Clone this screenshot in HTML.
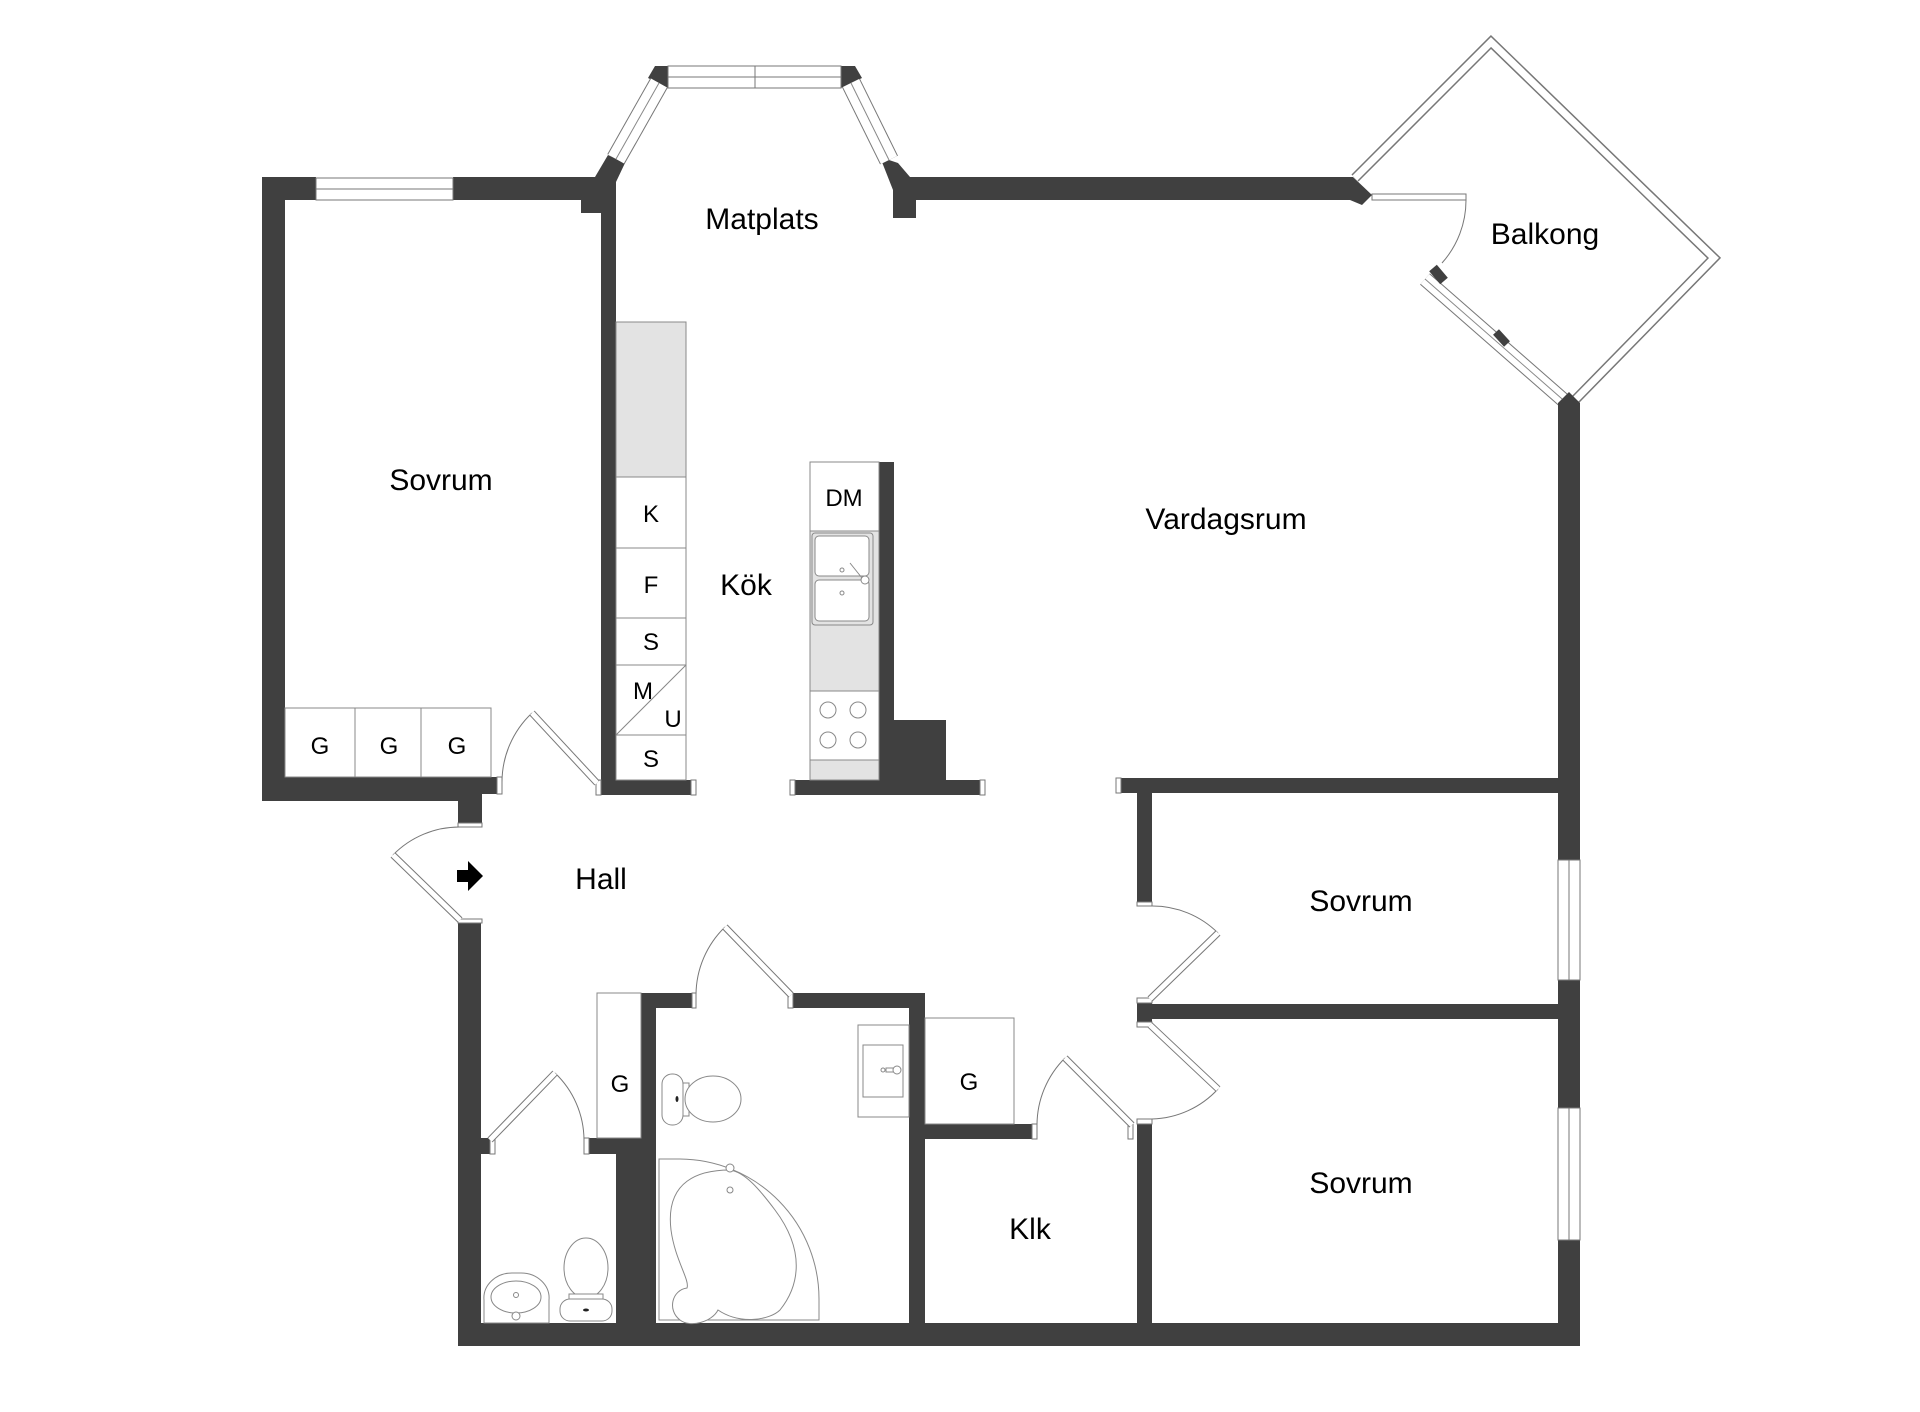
<!DOCTYPE html>
<html><head><meta charset="utf-8"><style>
html,body{margin:0;padding:0;background:#fff;}
svg{display:block;}
text{font-family:"Liberation Sans",Arial,sans-serif;fill:#000;}
</style></head><body>
<svg width="1920" height="1412" viewBox="0 0 1920 1412" xmlns="http://www.w3.org/2000/svg">
<!-- Balcony outline -->
<polyline points="1355,178 1491,42 1714,258 1575,400" fill="none" stroke="#777" stroke-width="10" stroke-linejoin="miter"/>
<polyline points="1355,178 1491,42 1714,258 1575,400" fill="none" stroke="#fff" stroke-width="7" stroke-linejoin="miter"/>
<!-- balcony window diagonal -->
<line x1="1425" y1="279" x2="1569" y2="405" stroke="#777" stroke-width="15"/>
<line x1="1425" y1="279" x2="1569" y2="405" stroke="#fff" stroke-width="13"/>
<line x1="1425" y1="279" x2="1569" y2="405" stroke="#888" stroke-width="1"/>
<line x1="1433" y1="268" x2="1444" y2="281" stroke="#404040" stroke-width="10"/>
<line x1="1496" y1="332" x2="1507" y2="344" stroke="#404040" stroke-width="8"/>
<!-- balcony door -->
<rect x="1372" y="194" width="94" height="6" fill="#fff" stroke="#777" stroke-width="1"/>
<path d="M1466,200 A94,94 0 0 1 1442,263" fill="none" stroke="#777" stroke-width="1"/>

<g fill="#404040">
<rect x="262" y="177" width="23" height="624"/>
<rect x="262" y="177" width="54" height="23"/>
<rect x="453" y="177" width="148" height="23"/>
<rect x="581" y="177" width="20" height="36"/>
<rect x="262" y="777" width="235" height="17"/>
<rect x="262" y="777" width="220" height="24"/>
<rect x="458" y="777" width="24" height="46"/>
<rect x="601" y="177" width="15" height="618"/>
<rect x="601" y="780" width="90" height="15"/>
<polygon points="595,177 608,155 625,163 616,182 616,200 595,200"/>
<polygon points="655,66 668,66 668,88 648,78"/>
<polygon points="841,66 855,66 862,78 841,88"/>
<polygon points="880,157 898,163 910,177 910,200 893,200 893,190"/>
<rect x="893" y="177" width="23" height="41"/>
<polygon points="910,177 1353,177 1372,195 1362,205 1350,200 910,200"/>
<polygon points="1558,403 1569,392 1580,403 1580,1346 1558,1346"/>
<rect x="879" y="462" width="15" height="333"/>
<rect x="894" y="720" width="52" height="75"/>
<rect x="795" y="780" width="185" height="15"/>
<rect x="1121" y="778" width="459" height="15"/>
<rect x="1137" y="778" width="15" height="124"/>
<rect x="1137" y="1004" width="443" height="15"/>
<rect x="1137" y="1003" width="15" height="19"/>
<rect x="1137" y="1124" width="15" height="222"/>
<rect x="458" y="923" width="23" height="423"/>
<rect x="458" y="1323" width="1122" height="23"/>
<rect x="481" y="1138" width="9" height="16"/>
<rect x="589" y="1138" width="40" height="16"/>
<rect x="616" y="1138" width="40" height="190"/>
<rect x="641" y="993" width="15" height="340"/>
<rect x="641" y="993" width="51" height="15"/>
<rect x="793" y="993" width="132" height="15"/>
<rect x="909" y="993" width="16" height="340"/>
<rect x="925" y="1124" width="107" height="15"/>
</g>

<g fill="#fff" stroke="#777" stroke-width="1">
<rect x="316" y="178" width="137" height="22"/>
<line x1="316" y1="189" x2="453" y2="189"/>
<rect x="668" y="66" width="173" height="22"/>
<line x1="668" y1="77" x2="841" y2="77"/>
<line x1="755" y1="66" x2="755" y2="88"/>
<rect x="1558" y="860" width="22" height="120"/>
<line x1="1569" y1="860" x2="1569" y2="980"/>
<rect x="1558" y="1108" width="22" height="132"/>
<line x1="1569" y1="1108" x2="1569" y2="1240"/>
</g>
<line x1="616" y1="159" x2="659" y2="83" stroke="#777" stroke-width="20"/>
<line x1="616" y1="159" x2="659" y2="83" stroke="#fff" stroke-width="18"/>
<line x1="616" y1="159" x2="659" y2="83" stroke="#888" stroke-width="1"/>
<line x1="851" y1="83" x2="889" y2="160" stroke="#777" stroke-width="20"/>
<line x1="851" y1="83" x2="889" y2="160" stroke="#fff" stroke-width="18"/>
<line x1="851" y1="83" x2="889" y2="160" stroke="#888" stroke-width="1"/>

<g fill="#fff" stroke="#777" stroke-width="1">
<rect x="497" y="777" width="5" height="17"/>
<rect x="596" y="780" width="5" height="15"/>
<rect x="691" y="780" width="5" height="15"/>
<rect x="790" y="780" width="5" height="15"/>
<rect x="980" y="780" width="5" height="15"/>
<rect x="1116" y="778" width="5" height="15"/>
<rect x="458" y="823" width="24" height="4"/>
<rect x="458" y="919" width="24" height="4"/>
<rect x="490" y="1138" width="5" height="16"/>
<rect x="584" y="1138" width="5" height="16"/>
<rect x="692" y="993" width="4" height="15"/>
<rect x="788" y="993" width="5" height="15"/>
<rect x="1032" y="1124" width="5" height="15"/>
<rect x="1128" y="1124" width="5" height="15"/>
<rect x="1137" y="902" width="15" height="4"/>
<rect x="1137" y="998" width="15" height="5"/>
<rect x="1137" y="1022" width="15" height="5"/>
<rect x="1137" y="1119" width="15" height="5"/>
</g>

<g fill="none" stroke="#777" stroke-width="1">
<path d="M532,713 A95,95 0 0 0 502,783"/>
<path d="M393,855 A93,93 0 0 1 460,827"/>
<path d="M555,1073 A93,93 0 0 1 584,1140"/>
<path d="M725,927 A95,95 0 0 0 696,995"/>
<path d="M1065,1058 A95,95 0 0 0 1037,1125"/>
<path d="M1218,933 A93,93 0 0 0 1152,906"/>
<path d="M1218,1089 A93,93 0 0 1 1152,1119"/>
</g>
<g stroke-linecap="butt">
<g stroke="#777" stroke-width="7">
<line x1="597" y1="783" x2="532" y2="713"/>
<line x1="460" y1="920" x2="393" y2="855"/>
<line x1="490" y1="1140" x2="555" y2="1073"/>
<line x1="791" y1="995" x2="725" y2="927"/>
<line x1="1132" y1="1125" x2="1065" y2="1058"/>
<line x1="1150" y1="999" x2="1218" y2="933"/>
<line x1="1150" y1="1025" x2="1218" y2="1089"/>
</g>
<g stroke="#fff" stroke-width="5">
<line x1="597" y1="783" x2="532" y2="713"/>
<line x1="460" y1="920" x2="393" y2="855"/>
<line x1="490" y1="1140" x2="555" y2="1073"/>
<line x1="791" y1="995" x2="725" y2="927"/>
<line x1="1132" y1="1125" x2="1065" y2="1058"/>
<line x1="1150" y1="999" x2="1218" y2="933"/>
<line x1="1150" y1="1025" x2="1218" y2="1089"/>
</g>
</g>

<g stroke="#888" stroke-width="1">
<rect x="616" y="322" width="70" height="155" fill="#e3e3e3"/>
<rect x="616" y="477" width="70" height="71" fill="#fff"/>
<rect x="616" y="548" width="70" height="70" fill="#fff"/>
<rect x="616" y="618" width="70" height="47" fill="#fff"/>
<rect x="616" y="665" width="70" height="70" fill="#fff"/>
<line x1="616" y1="735" x2="686" y2="665"/>
<rect x="616" y="735" width="70" height="45" fill="#fff"/>
<rect x="285" y="708" width="206" height="69" fill="#fff"/>
<line x1="355" y1="708" x2="355" y2="777"/>
<line x1="421" y1="708" x2="421" y2="777"/>
<rect x="810" y="462" width="69" height="69" fill="#fff"/>
<rect x="810" y="531" width="69" height="160" fill="#e3e3e3"/>
<rect x="812" y="533" width="61" height="92" rx="3" fill="#e3e3e3"/>
<rect x="815" y="536" width="54" height="40" rx="4" fill="#fff"/>
<rect x="815" y="580" width="54" height="41" rx="4" fill="#fff"/>
<rect x="810" y="691" width="69" height="69" fill="#fff"/>
<rect x="810" y="760" width="69" height="20" fill="#e3e3e3"/>
<circle cx="828" cy="710" r="8" fill="#fff"/><circle cx="858" cy="710" r="8" fill="#fff"/>
<circle cx="828" cy="740" r="8" fill="#fff"/><circle cx="858" cy="740" r="8" fill="#fff"/>
<circle cx="842" cy="570" r="2" fill="#fff"/><circle cx="842" cy="593" r="2" fill="#fff"/>
<line x1="850" y1="563" x2="862" y2="578"/>
<circle cx="865" cy="580" r="4" fill="#fff"/>
<rect x="597" y="993" width="44" height="145" fill="#fff"/>
<rect x="925" y="1018" width="89" height="106" fill="#fff"/>
<rect x="858" y="1025" width="51" height="92" fill="#fff"/>
<rect x="863" y="1045" width="40" height="52" fill="#fff"/>
<circle cx="883" cy="1070" r="2" fill="#fff"/>
<rect x="886" y="1068" width="8" height="4" fill="#fff"/>
<circle cx="897" cy="1070" r="4" fill="#fff"/>
<rect x="662" y="1074" width="21" height="51" rx="10" fill="#fff"/>
<rect x="683" y="1083" width="6" height="33" fill="#fff"/>
<ellipse cx="713" cy="1099" rx="28" ry="23" fill="#fff"/>
<path d="M659,1159 L680,1159 A140,140 0 0 1 819,1300 L819,1320 L659,1320 Z" fill="#fff"/>
<path d="M730,1170 C700,1170 665,1180 671,1230 C675,1260 690,1280 687,1288 C672,1290 667,1310 680,1320 C690,1328 712,1322 718,1310 C740,1325 770,1320 780,1310 C800,1285 805,1250 775,1210 C760,1190 745,1172 730,1170 Z" fill="#fff"/>
<circle cx="730" cy="1168" r="4" fill="#fff"/><circle cx="730" cy="1190" r="3" fill="#fff"/>
<path d="M484,1323 L484,1300 A28,25 0 0 1 512,1273 L521,1273 A28,25 0 0 1 549,1300 L549,1323 Z" fill="#fff"/>
<ellipse cx="516" cy="1297" rx="25" ry="16" fill="#fff"/>
<circle cx="516" cy="1295" r="2.5" fill="#fff"/>
<circle cx="516" cy="1316" r="4" fill="#fff"/>
<ellipse cx="586" cy="1268" rx="22" ry="30" fill="#fff"/>
<rect x="569" y="1294" width="34" height="6" fill="#fff"/>
<rect x="560" y="1299" width="52" height="22" rx="10" fill="#fff"/>
</g>
<ellipse cx="677" cy="1099" rx="1.5" ry="3" fill="#222"/>
<ellipse cx="586" cy="1310" rx="3" ry="1.5" fill="#222"/>

<polygon points="457,870 468,870 468,861 483,876 468,891 468,882 457,882" fill="#000"/>

<g font-size="30" text-anchor="middle">
<text x="441" y="490">Sovrum</text>
<text x="762" y="229">Matplats</text>
<text x="746" y="595">Kök</text>
<text x="1226" y="529">Vardagsrum</text>
<text x="1545" y="244">Balkong</text>
<text x="601" y="889">Hall</text>
<text x="1361" y="911">Sovrum</text>
<text x="1361" y="1193">Sovrum</text>
<text x="1030" y="1239">Klk</text>
</g>
<g font-size="24" text-anchor="middle">
<text x="651" y="522">K</text>
<text x="651" y="593">F</text>
<text x="651" y="650">S</text>
<text x="643" y="699">M</text>
<text x="673" y="727">U</text>
<text x="651" y="767">S</text>
<text x="844" y="506">DM</text>
<text x="320" y="754">G</text>
<text x="389" y="754">G</text>
<text x="457" y="754">G</text>
<text x="620" y="1092">G</text>
<text x="969" y="1090">G</text>
</g>
</svg>
</body></html>
